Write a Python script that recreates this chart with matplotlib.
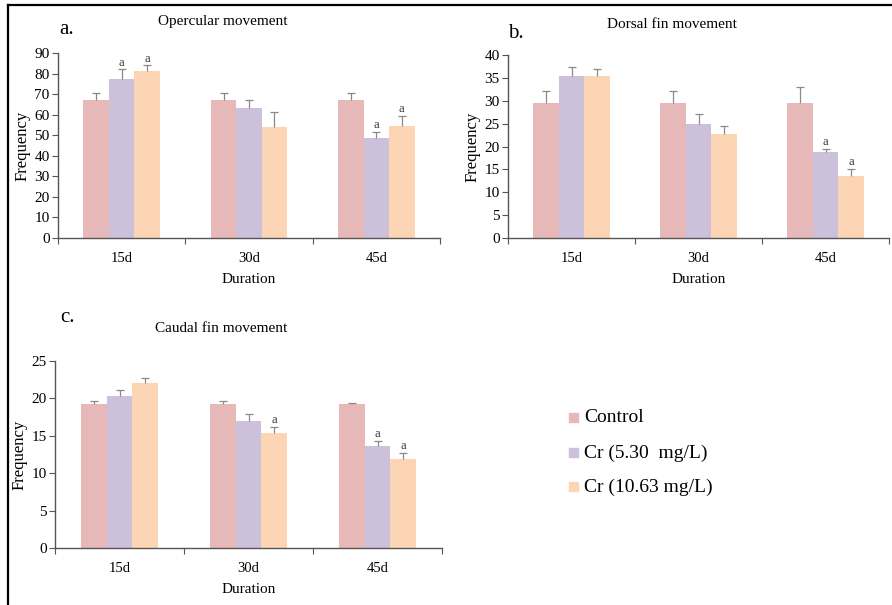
import numpy as np
import matplotlib
matplotlib.use("Agg")
import matplotlib.pyplot as plt
from matplotlib.lines import Line2D
from matplotlib.patches import Rectangle

plt.rcParams['font.family'] = ['Liberation Serif', 'DejaVu Serif']

durations = ['15d', '30d', '45d']
series_names = ['Control', 'Cr (5.30  mg/L)', 'Cr (10.63 mg/L)']
colors = ['#E6B8B7', '#CCC0DA', '#FCD5B4']

# opercular movement
oper_vals = [[67, 67, 67], [77.5, 63, 48.5], [81, 54, 54.5]]
oper_err = [[3.5, 3.5, 3.5], [4.5, 4, 3], [3, 7.5, 5]]
oper_sig = [(1, 0), (2, 0), (1, 2), (2, 2)]

# dorsal fin movement
dors_vals = [[29.6, 29.6, 29.6], [35.4, 24.9, 18.8], [35.4, 22.7, 13.6]]
dors_err = [[2.6, 2.6, 3.3], [2.0, 2.2, 0.7], [1.5, 1.8, 1.5]]
dors_sig = [(1, 2), (2, 2)]

# caudal fin movement
caud_vals = [[19.2, 19.2, 19.2], [20.3, 17.0, 13.7], [22.1, 15.4, 11.9]]
caud_err = [[0.4, 0.4, 0.2], [0.8, 0.9, 0.6], [0.6, 0.8, 0.8]]
caud_sig = [(2, 1), (1, 2), (2, 2)]

W, H = 892, 605
fig = plt.figure(figsize=(W / 100, H / 100), dpi=100)


def px_axes(left, top, right, bottom):
    return fig.add_axes([left / W, 1 - bottom / H, (right - left) / W, (bottom - top) / H])


def panel(ax, vals, errs, sig, ymax, ystep, title, letter, letter_xy, title_y):
    x = np.arange(len(durations))
    bw = 0.2
    for i in range(3):
        xs = x + (i - 1) * bw
        ax.bar(xs, vals[i], bw, color=colors[i], linewidth=0, zorder=2)
        e = np.array(errs[i])
        _, caps, _ = ax.errorbar(xs, vals[i], yerr=[np.zeros_like(e), e], fmt='none',
                                 ecolor='#8a8a8a', elinewidth=0.9, capsize=3,
                                 capthick=0.9, zorder=3)
        caps[0].set_visible(False)
    for s, g in sig:
        top = vals[s][g] + errs[s][g]
        ax.text(g + (s - 1) * bw, top + ymax * 0.004, 'a', ha='center', va='bottom',
                fontsize=9, color='#333333')
    ax.set_xlim(-0.5, 2.5)
    ax.set_ylim(0, ymax)
    ax.set_yticks(np.arange(0, ymax + 0.1, ystep))
    ax.set_xticks([-0.5, 0.5, 1.5, 2.5])
    ax.set_xticklabels([])
    ax.set_xticks(x, minor=True)
    ax.set_xticklabels(durations, minor=True)
    ax.tick_params(axis='x', which='minor', length=0, pad=10, labelsize=10.5)
    ax.tick_params(axis='x', which='major', length=4, direction='out', color='#555555')
    ax.tick_params(axis='y', length=4, direction='out', color='#555555', labelsize=11, pad=2)
    for sp in ['top', 'right']:
        ax.spines[sp].set_visible(False)
    for sp in ['left', 'bottom']:
        ax.spines[sp].set_color('#555555')
        ax.spines[sp].set_linewidth(1.0)
    ax.set_xlabel('Duration', fontsize=11, labelpad=6)
    ax.set_ylabel('Frequency', fontsize=12, labelpad=3)
    bb = ax.get_position()
    fig.text(bb.x0 + bb.width * 0.43, 1 - title_y / H, title, ha='center', va='center',
             fontsize=11)
    fig.text(letter_xy[0] / W, 1 - letter_xy[1] / H, letter, ha='left', va='center',
             fontsize=15)


ax_a = px_axes(58, 53, 440, 238)
panel(ax_a, oper_vals, oper_err, oper_sig, 90, 10, 'Opercular movement', 'a.', (59, 30), 22)

ax_b = px_axes(508, 55, 889, 238)
panel(ax_b, dors_vals, dors_err, dors_sig, 40, 5, 'Dorsal fin movement', 'b.', (508, 33), 25)

ax_c = px_axes(55, 361, 442, 548)
panel(ax_c, caud_vals, caud_err, caud_sig, 25, 5, 'Caudal fin movement', 'c.', (60, 318), 329)

# legend
leg_y = [418, 453, 487]
for name, c, yy in zip(series_names, colors, leg_y):
    fig.patches.append(Rectangle((569 / W, 1 - (yy + 4) / H), 9 / W, 9 / H,
                                 transform=fig.transFigure, color=c, figure=fig))
    fig.text(584 / W, 1 - yy / H, name, ha='left', va='center', fontsize=14)

# frame lines
fig.add_artist(Line2D([8 / W, 8 / W], [0, 1 - 5 / H], color='black', lw=1.6,
                      transform=fig.transFigure))
fig.add_artist(Line2D([8 / W, 1], [1 - 5 / H, 1 - 5 / H], color='black', lw=1.6,
                      transform=fig.transFigure))

fig.savefig('out.png', dpi=100)
